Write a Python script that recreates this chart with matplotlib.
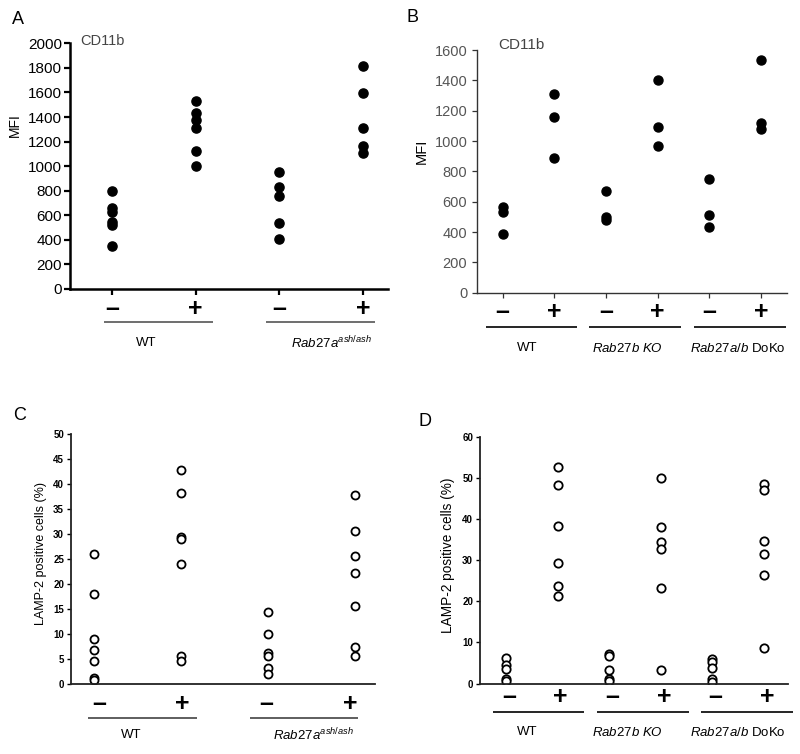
import matplotlib
matplotlib.use('Agg')
import matplotlib.pyplot as plt

plt.rcParams['font.family'] = ['Liberation Sans', 'DejaVu Sans']
plt.rcParams['mathtext.fontset'] = 'custom'
plt.rcParams['mathtext.rm'] = 'Liberation Sans'
plt.rcParams['mathtext.it'] = 'Liberation Sans:italic'
plt.rcParams['mathtext.bf'] = 'Liberation Sans:bold'

# ---------------- data ----------------
signs2 = ['–', '+', '–', '+']
signs3 = ['–', '+', '–', '+', '–', '+']

# Panel A (CD11b MFI, filled dots)
a_groups = ['WT', r'$\mathit{Rab27a}^{\mathit{ash/ash}}$']
a_wt_minus = [800, 660, 630, 545, 520, 350]
a_wt_plus = [1533, 1430, 1376, 1313, 1126, 1004]
a_rab_minus = [955, 830, 760, 535, 405]
a_rab_plus = [1818, 1598, 1313, 1164, 1110]
a_yticks = list(range(0, 2001, 200))

# Panel B (CD11b MFI, filled dots)
b_groups = ['WT', r'$\mathit{Rab27b\ KO}$', r'$\mathit{Rab27a/b}$ DoKo']
b_wt_minus = [565, 535, 385]
b_wt_plus = [1308, 1161, 890]
b_27b_minus = [670, 500, 480]
b_27b_plus = [1402, 1095, 967]
b_doko_minus = [750, 512, 431]
b_doko_plus = [1532, 1117, 1077]
b_yticks = list(range(0, 1601, 200))

# Panel C (LAMP-2 positive cells %, open circles)
c_groups = ['WT', r'$\mathit{Rab27a}^{\mathit{ash/ash}}$']
c_wt_minus = [26.0, 18.1, 9.0, 6.8, 4.7, 1.3, 0.8]
c_wt_plus = [42.8, 38.2, 29.5, 29.1, 24.1, 5.7, 4.7]
c_rab_minus = [14.4, 10.1, 6.2, 5.7, 3.3, 2.1]
c_rab_plus = [37.9, 30.7, 25.7, 22.3, 15.7, 7.4, 5.7]
c_yticks = list(range(0, 51, 5))

# Panel D (LAMP-2 positive cells %, open circles)
d_groups = ['WT', r'$\mathit{Rab27b\ KO}$', r'$\mathit{Rab27a/b}$ DoKo']
d_wt_minus = [6.3, 4.5, 3.6, 1.1, 0.5]
d_wt_plus = [52.6, 48.2, 38.3, 29.3, 23.7, 21.2]
d_27b_minus = [7.1, 6.7, 3.2, 1.1, 0.6]
d_27b_plus = [50.0, 38.1, 34.4, 32.8, 23.3, 3.3]
d_doko_minus = [5.9, 5.3, 3.8, 1.0, 0.4]
d_doko_plus = [48.6, 47.0, 34.6, 31.4, 26.4, 8.7]
d_yticks = list(range(0, 61, 10))

W, H = 800, 754
fig = plt.figure(figsize=(W / 100, H / 100), dpi=100)


def add_ax(l, r, t, b):
    return fig.add_axes([l / W, 1 - b / H, (r - l) / W, (b - t) / H])


def decorate(ax, top, bottom, sign_py, sign_xs, signs, sign_size,
             line_py, spans, line_w, line_c,
             label_py, label_xs, labels, label_size):
    h = bottom - top
    tr = ax.get_xaxis_transform()
    fy = lambda py: -(py - bottom) / h
    for x, s in zip(sign_xs, signs):
        ax.text(x, fy(sign_py), s, transform=tr, ha='center', va='center',
                fontsize=sign_size, fontweight='bold', clip_on=False)
    for x0, x1 in spans:
        ax.plot([x0, x1], [fy(line_py)] * 2, transform=tr, color=line_c,
                lw=line_w, clip_on=False, solid_capstyle='butt')
    for x, s in zip(label_xs, labels):
        ax.text(x, fy(label_py), s, transform=tr, ha='center', va='center',
                fontsize=label_size, clip_on=False)


def scatter_groups(ax, series, **kw):
    for i, vals in enumerate(series):
        ax.plot([i + 1] * len(vals), vals, linestyle='none', **kw)


def ftext(px, py, s, **kw):
    fig.text(px / W, 1 - py / H, s, **kw)


# ---------------- Panel A ----------------
A = dict(l=70, r=388, t=43.3, b=289)
axA = add_ax(A['l'], A['r'], A['t'], A['b'])
scatter_groups(axA, [a_wt_minus, a_wt_plus, a_rab_minus, a_rab_plus],
               marker='o', ms=6.6, color='black', mec='black')
axA.set_xlim(0.5, 4.3)
axA.set_ylim(0, 2000)
axA.set_yticks(a_yticks)
axA.set_xticks([1, 2, 3, 4])
axA.set_xticklabels([])
for s in ['top', 'right']:
    axA.spines[s].set_visible(False)
for s in ['left', 'bottom']:
    axA.spines[s].set_linewidth(1.8)
axA.tick_params(axis='both', direction='out', length=4.5, width=1.6,
                labelsize=11, pad=1.2)
axA.set_ylabel('MFI', fontsize=10)
axA.yaxis.label.set_va('center')
axA.yaxis.set_label_coords(-0.173, 0.667)
ftext(80, 41, 'CD11b', fontsize=10.5, color='#444444', va='center', ha='left')
decorate(axA, A['t'], A['b'], 308.5, [1, 2, 3, 4], signs2, 18,
         322, [(0.906, 2.209), (2.842, 4.145)], 1.2, '#555555',
         343.3, [1.41, 3.62], a_groups, 9.5)

# ---------------- Panel B ----------------
B = dict(l=476.7, r=786.7, t=50, b=292.7)
axB = add_ax(B['l'], B['r'], B['t'], B['b'])
scatter_groups(axB, [b_wt_minus, b_wt_plus, b_27b_minus, b_27b_plus,
                     b_doko_minus, b_doko_plus],
               marker='o', ms=6.5, color='black', mec='black')
axB.set_xlim(0.5, 6.5)
axB.set_ylim(0, 1600)
axB.set_yticks(b_yticks)
axB.set_xticks([1, 2, 3, 4, 5, 6])
axB.set_xticklabels([])
for s in ['top', 'right']:
    axB.spines[s].set_visible(False)
for s in ['left', 'bottom']:
    axB.spines[s].set_linewidth(1.0)
    axB.spines[s].set_color('#333333')
axB.tick_params(axis='both', direction='out', length=3.8, width=0.9,
                labelsize=10.5, pad=3, colors='#555555')
axB.tick_params(axis='both', color='#333333')
axB.set_ylabel('MFI', fontsize=10.5)
axB.yaxis.label.set_va('center')
axB.yaxis.set_label_coords(-0.177, 0.584)
ftext(498, 45, 'CD11b', fontsize=11, color='#444444', va='center', ha='left')
decorate(axB, B['t'], B['b'], 312, [1, 2, 3, 4, 5, 6], signs3, 18,
         327, [(0.68, 2.44), (2.67, 4.45), (4.70, 6.49)], 1.2, 'black',
         348, [1.47, 3.41, 5.56], b_groups, 9.5)

# ---------------- Panel C ----------------
C = dict(l=71, r=375, t=434.3, b=684.3)
axC = add_ax(C['l'], C['r'], C['t'], C['b'])
scatter_groups(axC, [c_wt_minus, c_wt_plus, c_rab_minus, c_rab_plus],
               marker='o', ms=5.8, mfc='white', mec='black', mew=1.3)
axC.set_xlim(0.736, 4.23)
axC.set_ylim(0, 50)
axC.set_yticks(c_yticks)
axC.set_xticks([])
for s in ['top', 'right']:
    axC.spines[s].set_visible(False)
for s in ['left', 'bottom']:
    axC.spines[s].set_linewidth(1.3)
    axC.spines[s].set_color('#222222')
axC.tick_params(axis='y', direction='out', length=3, width=1.0,
                labelsize=7, pad=2)
for lab in axC.get_yticklabels():
    lab.set_fontweight('bold')
axC.set_ylabel('LAMP-2 positive cells (%)', fontsize=9)
axC.yaxis.label.set_va('center')
axC.yaxis.set_label_coords(-0.10, 0.525)
decorate(axC, C['t'], C['b'], 704, [1.06, 2.02, 2.98, 3.94], signs2, 18,
         718, [(0.93, 2.18), (2.79, 4.03)], 1.1, '#333333',
         735, [1.43, 3.52], c_groups, 9.5)

# ---------------- Panel D ----------------
D = dict(l=480, r=787.7, t=436.7, b=683.5)
axD = add_ax(D['l'], D['r'], D['t'], D['b'])
scatter_groups(axD, [d_wt_minus, d_wt_plus, d_27b_minus, d_27b_plus,
                     d_doko_minus, d_doko_plus],
               marker='o', ms=6.0, mfc='white', mec='black', mew=1.3)
axD.set_xlim(0.496, 6.46)
axD.set_ylim(0, 60)
axD.set_yticks(d_yticks)
axD.set_xticks([])
for s in ['top', 'right']:
    axD.spines[s].set_visible(False)
for s in ['left', 'bottom']:
    axD.spines[s].set_linewidth(1.3)
    axD.spines[s].set_color('#222222')
axD.tick_params(axis='y', direction='out', length=3, width=1.0,
                labelsize=7, pad=2)
for lab in axD.get_yticklabels():
    lab.set_fontweight('bold')
axD.set_ylabel('LAMP-2 positive cells (%)', fontsize=9.8)
axD.yaxis.label.set_va('center')
axD.yaxis.set_label_coords(-0.104, 0.519)
decorate(axD, D['t'], D['b'], 697, [1.06, 2.06, 3.06, 4.06, 5.06, 6.06],
         signs3, 18,
         712, [(0.75, 2.51), (2.76, 4.55), (4.78, 6.56)], 1.2, 'black',
         732, [1.41, 3.35, 5.5], d_groups, 9.5)

# panel letters
for x, y, s in [(18, 19, 'A'), (412, 18, 'B'), (20, 415, 'C'), (425, 422, 'D')]:
    ftext(x, y, s, fontsize=13, ha='center', va='center')

fig.savefig('out.png', dpi=100)
